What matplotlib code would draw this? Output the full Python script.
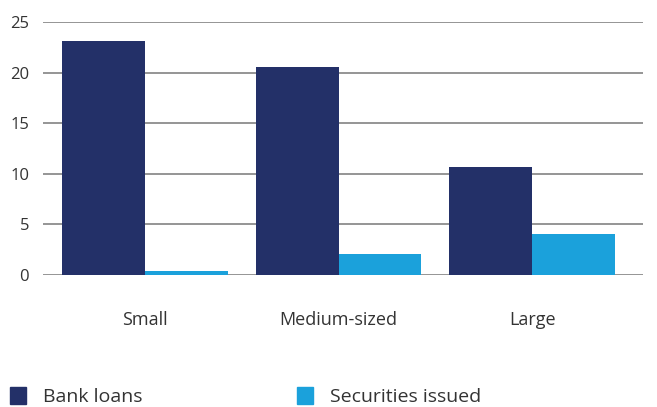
import matplotlib
matplotlib.use("Agg")
import matplotlib.pyplot as plt
from matplotlib.patches import Patch
import numpy as np

plt.rcParams['font.family'] = ['Open Sans', 'DejaVu Sans']

categories = ["Small", "Medium-sized", "Large"]
bank_loans = [23.1, 20.6, 10.65]
securities_issued = [0.4, 2.05, 4.05]
series_names = ["Bank loans", "Securities issued"]
yticks = [0, 5, 10, 15, 20, 25]

navy = "#233068"
lblue = "#1BA1DB"

fig = plt.figure(figsize=(6.57, 4.07), dpi=100)
ax = fig.add_axes([43/657, 1-275/407, 600/657, 253/407])

x = np.arange(len(categories))
w = 0.428
ax.bar(x - w/2, bank_loans, width=w, color=navy, zorder=3)
ax.bar(x + w/2, securities_issued, width=w, color=lblue, zorder=3)

ax.set_xlim(-0.526, 2.572)
ax.set_ylim(0, 25)
ax.set_yticks(yticks)
ax.set_xticks(x)
ax.set_xticklabels(categories, fontsize=13, color="#333333")
ax.tick_params(axis='y', length=0, pad=10, labelsize=12, labelcolor="#333333")
ax.tick_params(axis='x', length=0, pad=26)
ax.grid(axis='y', color="#8c8c8c", linewidth=1.3, zorder=0)
for s in ax.spines.values():
    s.set_visible(False)

colors = [navy, lblue]
xpos = [10/657, 297/657]
for name, c, xp in zip(series_names, colors, xpos):
    fig.legend([Patch(color=c)], [name], loc='lower left', bbox_to_anchor=(xp, 1/407),
               frameon=False, fontsize=14, handlelength=0.82, handleheight=0.95,
               handletextpad=0.9, borderpad=0, borderaxespad=0, labelcolor="#333333")

fig.savefig("out.png", dpi=100)
